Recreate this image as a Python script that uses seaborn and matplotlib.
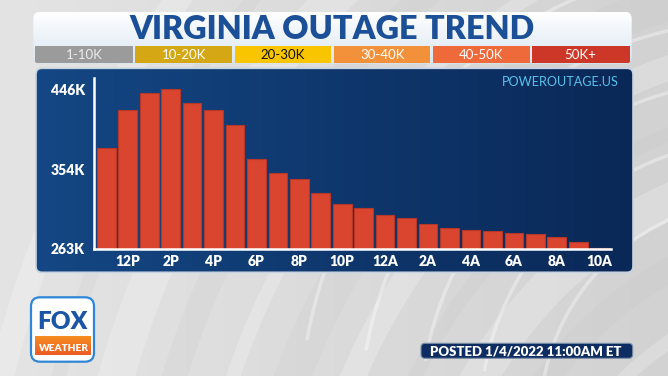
import numpy as np
import pandas as pd
import matplotlib
matplotlib.use("Agg")
import matplotlib.pyplot as plt
import seaborn as sns
from matplotlib.patches import FancyBboxPatch, Rectangle, Arc
from matplotlib.colors import LinearSegmentedColormap

# ---------------- data ----------------
hours = ["11A", "12P", "1P", "2P", "3P", "4P", "5P", "6P", "7P", "8P", "9P", "10P",
         "11P", "12A", "1A", "2A", "3A", "4A", "5A", "6A", "7A", "8A", "9A", "10A"]
outages_k = [379, 422, 442, 446, 430, 422, 405, 366, 350, 343, 327, 314,
             310, 302, 299, 292, 287, 285, 284, 281, 280, 277, 271, 264]
y_ticks = [263, 354, 446]
y_tick_labels = ["263K", "354K", "446K"]
legend_labels = ["1-10K", "10-20K", "20-30K", "30-40K", "40-50K", "50K+"]
legend_colors = ["#9b9b9b", "#d6a714", "#f9c500", "#f3913a", "#ee6a3b", "#cc3727"]
legend_text_colors = ["#ececec", "white", "#111111", "white", "white", "white"]
title = "VIRGINIA OUTAGE TREND"
source = "POWEROUTAGE.US"
posted = "POSTED 1/4/2022 11:00AM ET"

sns.set_theme(style="white")
plt.rcParams['font.family'] = ['Lato', 'DejaVu Sans']

W, H = 668, 376
fig = plt.figure(figsize=(W / 100, H / 100), dpi=100)
bg = fig.add_axes([0, 0, 1, 1])
bg.axis('off')


def grad(ax, x0, y0, x1, y1, c0, c1, direction='h', clip=None, z=1):
    g = np.linspace(0, 1, 256)
    arr = g[None, :] if direction == 'h' else g[:, None]
    cmap = LinearSegmentedColormap.from_list('g', [c0, c1])
    im = ax.imshow(arr, cmap=cmap, extent=[x0, x1, y1, y0], aspect='auto',
                   zorder=z, interpolation='bilinear')
    if clip is not None:
        im.set_clip_path(clip)
    return im


def fit(t, width_px):
    fig.canvas.draw()
    bb = t.get_window_extent()
    t.set_fontsize(t.get_fontsize() * width_px / bb.width)


# background
grad(bg, 0, 0, W, H, "#e4e4e4", "#d2d2d2", 'h', z=0)
for i, r in enumerate(np.arange(300, 900, 55)):
    col = "white" if i % 2 == 0 else "#bcbcbc"
    a = 0.22 if i % 2 == 0 else 0.12
    bg.add_patch(Arc((820, 640), 2 * r, 2 * r * 1.15, theta1=150, theta2=275,
                     color=col, lw=10 + (i % 3) * 8, alpha=a, zorder=0.5))
for i, r in enumerate(np.arange(220, 520, 60)):
    bg.add_patch(Arc((760, 420), 2 * r, 2 * r, theta1=190, theta2=260,
                     color="white", lw=2.5, alpha=0.35, zorder=0.5))

# title panel
tp = FancyBboxPatch((33.3, 11.7), 598.4, 52, boxstyle="round,pad=0,rounding_size=7",
                    facecolor="none", edgecolor="none", zorder=2)
bg.add_patch(tp)
grad(bg, 33.3, 11.7, 631.7, 63.7, "#ffffff", "#d8e5f1", 'v', clip=tp, z=2)
t_title = bg.text(332.5, 39.3, title, ha='center', va='baseline', color="#1b4f98",
                  fontsize=22, fontweight='heavy', zorder=4)
x0, x1 = 34.7, 630.3
seg_w = (x1 - x0) / 6
for i, (lab, c, tc) in enumerate(zip(legend_labels, legend_colors, legend_text_colors)):
    r = Rectangle((x0 + i * seg_w + (1.3 if i > 0 else 0), 45.7),
                  seg_w - (1.3 if i > 0 else 0) - (1.3 if i < 5 else 0), 17.5,
                  facecolor=c, edgecolor='none', zorder=3)
    bg.add_patch(r)
    r.set_clip_path(tp)
    bg.text(x0 + (i + 0.5) * seg_w, 59.3, lab, ha='center', va='baseline',
            color=tc, fontsize=9.5, zorder=4)

# chart panel
cp = FancyBboxPatch((36, 68.3), 597, 204, boxstyle="round,pad=0,rounding_size=6",
                    facecolor="none", edgecolor="#c9d3df", lw=1.2, zorder=2.5)
bg.add_patch(cp)
grad(bg, 36, 68.3, 633, 272.3, "#144784", "#0a2857", 'h', clip=cp, z=2)
t_src = bg.text(618.7, 85.7, source, ha='right', va='baseline', color="#58c2ec",
                fontsize=9.5, zorder=4)

# logo
lg = FancyBboxPatch((31, 297.3), 63, 64.4, boxstyle="round,pad=0,rounding_size=9",
                    facecolor="white", edgecolor="#2f86d6", lw=1.6, zorder=2)
bg.add_patch(lg)
t_fox = bg.text(62.3, 329.3, "FOX", ha='center', va='baseline', color="#1b55a5",
                fontsize=20, fontweight='heavy', zorder=4)
wb = Rectangle((35, 336), 56, 19.5, facecolor="none", edgecolor="none", zorder=3)
bg.add_patch(wb)
grad(bg, 35, 336, 91, 355.5, "#f6901f", "#ec5b25", 'v', clip=wb, z=3)
t_wx = bg.text(63.5, 351.2, "WEATHER", ha='center', va='baseline', color="white",
               fontsize=9, fontweight='heavy', zorder=4)

# posted pill
pp = FancyBboxPatch((421, 343.3), 211.7, 15, boxstyle="round,pad=0,rounding_size=4",
                    facecolor="#0d2c62", edgecolor="#7d8fa8", lw=0.8, zorder=3)
bg.add_patch(pp)
t_post = bg.text(526, 356, posted, ha='center', va='baseline', color="white",
                 fontsize=9.5, fontweight='heavy', zorder=4)

bg.set_xlim(0, W)
bg.set_ylim(H, 0)

# ---------------- bars ----------------
ax = fig.add_axes([94 / W, 1 - 249 / H, (611 - 94) / W, (249 - 78.3) / H])
df = pd.DataFrame({"hour": hours, "outages": outages_k})
sns.barplot(data=df, x="hour", y="outages", order=hours, color="#d9452f",
            saturation=1, width=0.87, edgecolor="#b3382a", linewidth=0.8, ax=ax)
ax.set_ylim(263, 458.5)
ax.set_xlim(-0.575, 23.53)
ax.patch.set_alpha(0)
ax.grid(False)
for s in ["top", "right"]:
    ax.spines[s].set_visible(False)
for s in ["left", "bottom"]:
    ax.spines[s].set_color("white")
    ax.spines[s].set_linewidth(1.8)
ax.set_yticks(y_ticks)
ax.set_yticklabels(y_tick_labels)
ax.set_xticks(range(1, len(hours), 2))
ax.set_xticklabels(hours[1::2])
ax.set_xlabel("")
ax.set_ylabel("")
ax.tick_params(axis='y', length=0, colors="white", labelsize=10, pad=6.5)
ax.tick_params(axis='x', length=0, colors="white", labelsize=10, pad=4.5)
for lab in ax.get_xticklabels() + ax.get_yticklabels():
    lab.set_fontweight("heavy")

fit(t_title, 405)
fit(t_src, 118)
fit(t_fox, 50)
fit(t_wx, 50)
fit(t_post, 193)

fig.savefig("out.png", dpi=100)
